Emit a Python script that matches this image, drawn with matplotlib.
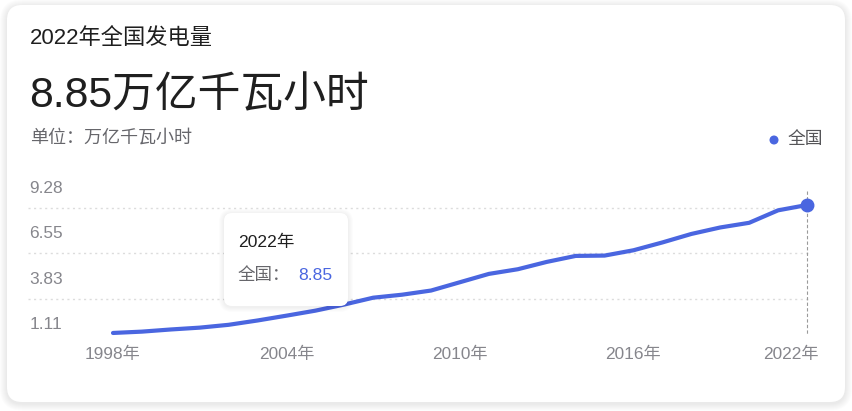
import matplotlib
matplotlib.use("Agg")
import matplotlib.pyplot as plt
from matplotlib.patches import FancyBboxPatch, Circle
from matplotlib.transforms import ScaledTranslation

plt.rcParams['font.family'] = ['Liberation Sans', 'Noto Sans CJK SC', 'DejaVu Sans']

# ---------------- data ----------------
years = list(range(1998, 2023))
values = [1.16, 1.24, 1.37, 1.48, 1.65, 1.91, 2.20, 2.50, 2.87, 3.28,
          3.46, 3.71, 4.21, 4.71, 4.99, 5.43, 5.79, 5.81, 6.13, 6.60,
          7.11, 7.50, 7.78, 8.53, 8.85]
y_ticks = [1.11, 3.83, 6.55, 9.28]
x_ticks = [1998, 2004, 2010, 2016, 2022]
x_labels = [f"{y}年" for y in x_ticks]
series_name = "全国"
title = "2022年全国发电量"
headline = "8.85万亿千瓦小时"
unit_text = "单位：万亿千瓦小时"
tip_year = "2022年"
tip_value = "8.85"

# ---------------- style ----------------
W, H = 852, 411
BLUE = "#4a66e0"
GREY_TXT = "#86868c"
DARK = "#1f1f1f"

fig = plt.figure(figsize=(W / 100, H / 100), dpi=100)
fig.patch.set_facecolor("white")

# background / card layer (pixel coordinates)
bg = fig.add_axes([0, 0, 1, 1], zorder=0)
bg.set_xlim(0, W)
bg.set_ylim(H, 0)
bg.axis("off")

def rrect(ax, x0, y0, x1, y1, r, **kw):
    p = FancyBboxPatch((x0, y0), x1 - x0, y1 - y0,
                       boxstyle=f"round,pad=0,rounding_size={r}", **kw)
    ax.add_patch(p)
    return p

# soft card shadow
for d in range(1, 8):
    rrect(bg, 7 - d, 5 - d + 1.5, 845 + d, 402 + d + 1.5, 15 + d,
          facecolor="#000000", edgecolor="none", alpha=0.012)
rrect(bg, 7, 5, 845, 402, 15, facecolor="white", edgecolor="none")

bg.text(30, 38, title, fontsize=16, color=DARK, va="center", ha="left")
bg.text(29, 96, headline, fontsize=30.8, color=DARK, va="center", ha="left")
bg.text(30, 138, unit_text, fontsize=13, color="#66666b", va="center", ha="left")

# legend
bg.add_patch(Circle((774, 140), 3.8, color=BLUE))
bg.text(788, 139, series_name, fontsize=12.8, color="#555558", va="center", ha="left")

# ---------------- chart ----------------
ax_l, ax_r, ax_t, ax_b = 28, 810, 190, 342
ax = fig.add_axes([ax_l / W, (H - ax_b) / H, (ax_r - ax_l) / W, (ax_b - ax_t) / H], zorder=1)
ax.patch.set_alpha(0)
for s in ax.spines.values():
    s.set_visible(False)

px_per_year = 28.917
px_per_unit = 16.64
ax.set_xlim(1998 - (113 - ax_l) / px_per_year, 2022 + (ax_r - 807) / px_per_year)
ax.set_ylim(8.85 - (ax_b - 205) / px_per_unit, 8.85 + (205 - ax_t) / px_per_unit)

ax.plot(years, values, color=BLUE, lw=3.0, solid_capstyle="round",
        solid_joinstyle="round", zorder=3)
ax.plot([years[-1]], [values[-1]], "o", color=BLUE, ms=9, zorder=4, clip_on=False)

# vertical dashed guide line at the last point
ax.plot([years[-1], years[-1]], [ax.get_ylim()[1] - 0.05, y_ticks[0]],
        color="#9a9a9a", lw=0.8, ls=(0, (3, 2)), zorder=2, clip_on=False)

# gridlines (drawn slightly below their tick value, as in the reference)
down = ScaledTranslation(0, -0.10, fig.dpi_scale_trans)
ax.hlines(y_ticks, 0, 1, transform=ax.get_yaxis_transform() + down,
          colors="#dcdcdc", lw=1.0, linestyles=(0, (1.5, 2.5)), zorder=1)

ax.set_yticks(y_ticks)
ax.set_yticklabels([f"{v:.2f}" for v in y_ticks])
ax.tick_params(axis="y", length=0, pad=-0.9, labelsize=12.4, labelcolor=GREY_TXT)
up = ScaledTranslation(0, 0.11, fig.dpi_scale_trans)
for lab in ax.get_yticklabels():
    lab.set_ha("left")
    lab.set_transform(lab.get_transform() + up)

ax.set_xticks(x_ticks)
ax.set_xticklabels(x_labels)
ax.tick_params(axis="x", length=0, pad=3.5, labelsize=12.4, labelcolor=GREY_TXT)
xl = ax.get_xticklabels()
xl[-1].set_transform(xl[-1].get_transform() + ScaledTranslation(-0.16, 0, fig.dpi_scale_trans))

# ---------------- tooltip overlay ----------------
ov = fig.add_axes([0, 0, 1, 1], zorder=2)
ov.set_xlim(0, W)
ov.set_ylim(H, 0)
ov.axis("off")
ov.patch.set_alpha(0)
for d in range(1, 6):
    rrect(ov, 224 - d, 213 - d + 1, 348 + d, 306 + d + 1, 8 + d,
          facecolor="#000000", edgecolor="none", alpha=0.012)
rrect(ov, 224, 213, 348, 306, 8, facecolor="white", edgecolor="none")
ov.text(238, 242, tip_year, fontsize=12.6, color=DARK, va="center", ha="left")
ov.text(238, 275, series_name + "：", fontsize=12.6, color="#66666b", va="center", ha="left")
ov.text(298, 275, tip_value, fontsize=12.6, color=BLUE, va="center", ha="left")

fig.savefig("out.png", dpi=100, facecolor=fig.get_facecolor())
